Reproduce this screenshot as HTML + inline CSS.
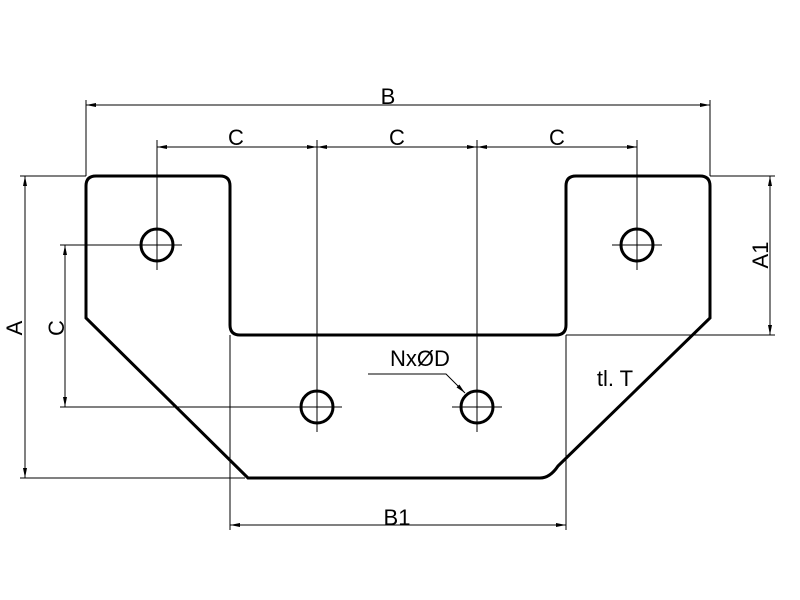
<!DOCTYPE html>
<html><head><style>body{margin:0;background:#fff}svg{display:block}text{font-family:"Liberation Sans",sans-serif;fill:#000}</style></head>
<body>
<svg width="800" height="600" viewBox="0 0 800 600">
<defs><marker id="a" viewBox="0 0 10 4" refX="10" refY="2" markerWidth="10" markerHeight="4" orient="auto-start-reverse" markerUnits="userSpaceOnUse"><path d="M0,0L10,2L0,4z" fill="#000"/></marker></defs>
<g stroke="#000" stroke-width="1" fill="none">
<!-- extension lines -->
<line x1="86" y1="100" x2="86" y2="176"/><line x1="710" y1="100" x2="710" y2="176"/>
<line x1="157" y1="140" x2="157" y2="270"/><line x1="637" y1="140" x2="637" y2="270"/>
<line x1="317" y1="140" x2="317" y2="432"/><line x1="477" y1="140" x2="477" y2="432"/>
<line x1="20" y1="176" x2="86" y2="176"/><line x1="20" y1="478" x2="245" y2="478"/>
<line x1="710" y1="176" x2="775" y2="176"/><line x1="566" y1="335" x2="775" y2="335"/>
<line x1="60" y1="245" x2="182" y2="245"/><line x1="60" y1="407" x2="342" y2="407"/>
<line x1="452" y1="407" x2="502" y2="407"/><line x1="612" y1="245" x2="662" y2="245"/>
<line x1="230" y1="335" x2="230" y2="530"/><line x1="566" y1="335" x2="566" y2="530"/>
<!-- dim lines -->
<line x1="86" y1="105" x2="710" y2="105" marker-start="url(#a)" marker-end="url(#a)"/>
<line x1="157" y1="147" x2="317" y2="147" marker-start="url(#a)" marker-end="url(#a)"/>
<line x1="317" y1="147" x2="477" y2="147" marker-start="url(#a)" marker-end="url(#a)"/>
<line x1="477" y1="147" x2="637" y2="147" marker-start="url(#a)" marker-end="url(#a)"/>
<line x1="25" y1="176" x2="25" y2="478" marker-start="url(#a)" marker-end="url(#a)"/>
<line x1="65" y1="245" x2="65" y2="407" marker-start="url(#a)" marker-end="url(#a)"/>
<line x1="770" y1="176" x2="770" y2="335" marker-start="url(#a)" marker-end="url(#a)"/>
<line x1="230" y1="525" x2="566" y2="525" marker-start="url(#a)" marker-end="url(#a)"/>
<polyline points="368,374 446,374 465,393" marker-end="url(#a)"/>
</g>
<g stroke="#000" stroke-width="3" fill="none">
<path d="M96,176 H220 Q230,176 230,186 V325 Q230,335 240,335 H556 Q566,335 566,325 V186 Q566,176 576,176 H700 Q710,176 710,186 V318 L558,466 Q550,478 540,478 H248 L86,318 V186 Q86,176 96,176 Z"/>
<circle cx="157" cy="245" r="16"/><circle cx="637" cy="245" r="16"/>
<circle cx="317" cy="407" r="16"/><circle cx="477" cy="407" r="16"/>
</g>
<g font-size="22">
<text x="388" y="104" text-anchor="middle">B</text>
<text x="236" y="145" text-anchor="middle">C</text>
<text x="397" y="145" text-anchor="middle">C</text>
<text x="557" y="145" text-anchor="middle">C</text>
<text x="397" y="525" text-anchor="middle">B1</text>
<text x="420" y="366" text-anchor="middle">NxØD</text>
<text x="615" y="386" text-anchor="middle">tl. T</text>
<text transform="translate(22,328) rotate(-90)" text-anchor="middle">A</text>
<text transform="translate(64,328) rotate(-90)" text-anchor="middle">C</text>
<text transform="translate(768,255) rotate(-90)" text-anchor="middle">A1</text>
</g>
</svg>
</body></html>
